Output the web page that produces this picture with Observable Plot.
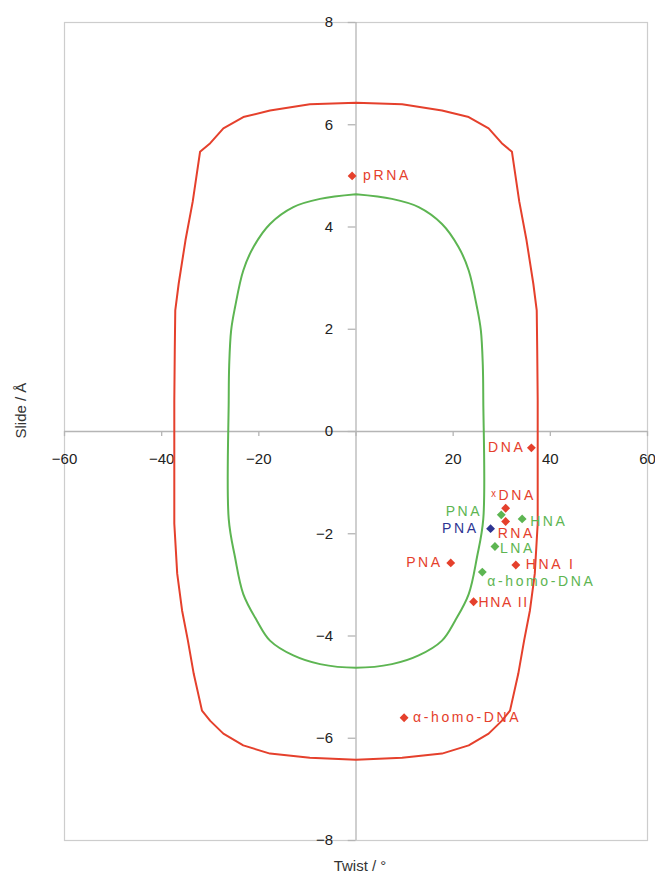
<!DOCTYPE html>
<html>
<head>
<meta charset="utf-8">
<script src="https://cdn.jsdelivr.net/npm/d3@7"></script>
<script src="https://cdn.jsdelivr.net/npm/@observablehq/plot@0.6"></script>
<style>
  html, body { margin: 0; padding: 0; background: #fff; }
</style>
</head>
<body>
<div id="chart"></div>
<script>
// ---- data ----
const names  = ["pRNA", "DNA", "ˣDNA", "PNA", "RNA", "HNA", "PNA", "LNA", "PNA", "HNA I", "α-homo-DNA", "HNA II", "α-homo-DNA"];
const twist  = [-0.8, 36.1, 30.8, 29.9, 30.8, 34.2, 27.7, 28.6, 19.5, 32.9, 26.0, 24.2, 9.9];
const slide  = [5.0, -0.32, -1.50, -1.63, -1.76, -1.71, -1.90, -2.25, -2.57, -2.61, -2.75, -3.33, -5.6];
const family = ["red", "red", "red", "green", "red", "green", "blue", "green", "red", "red", "green", "red", "red"];

// outer (red) boundary
const outerTwist = [0, -9.5, -17.7, -23.2, -27.3, -30.0, -32.1, -33.6, -35.1, -36.5, -37.2, -37.3, -37.4, -37.4, -36.8, -35.8, -34.6, -33.4, -31.7, -30.0, -27.3, -23.2, -17.7, -9.5, 0,
                    9.5, 17.7, 23.2, 27.3, 30.0, 31.7, 33.4, 34.6, 35.8, 36.8, 37.4, 37.4, 37.3, 37.2, 36.5, 35.1, 33.6, 32.1, 30.0, 27.3, 23.2, 17.7, 9.5, 0];
const outerSlide = [6.43, 6.40, 6.28, 6.15, 5.93, 5.64, 5.47, 4.50, 3.74, 2.89, 2.37, 1.60, 0.60, -1.80, -2.78, -3.50, -4.09, -4.74, -5.46, -5.66, -5.91, -6.14, -6.30, -6.38, -6.42,
                    -6.38, -6.30, -6.14, -5.91, -5.66, -5.46, -4.74, -4.09, -3.50, -2.78, -1.80, 0.60, 1.60, 2.37, 2.89, 3.74, 4.50, 5.47, 5.64, 5.93, 6.15, 6.28, 6.40, 6.43];

// inner (green) boundary
const innerTwist = [0, -7.4, -12.9, -17.7, -21.1, -23.2, -24.9, -25.7, -26.1, -26.2, -26.2, -24.9, -23.2, -20.4, -17.7, -12.9, -7.4, 0,
                    7.4, 12.9, 17.7, 20.4, 23.2, 24.9, 26.2, 26.2, 26.1, 25.7, 24.9, 23.2, 21.1, 17.7, 12.9, 7.4, 0];
const innerSlide = [4.64, 4.55, 4.39, 4.06, 3.61, 3.15, 2.43, 1.98, 1.30, 0.60, -1.71, -2.46, -3.18, -3.70, -4.09, -4.38, -4.55, -4.62,
                    -4.55, -4.38, -4.09, -3.70, -3.18, -2.46, -1.71, 0.60, 1.30, 1.98, 2.43, 3.15, 3.61, 4.06, 4.39, 4.55, 4.64];

const xTicks = [-60, -40, -20, 0, 20, 40, 60];
const xTickLabels = [-60, -40, -20, 20, 40, 60];
const yTicks = [-8, -6, -4, -2, 0, 2, 4, 6, 8];

// ---- styles / layout ----
const colors = {red: "#e5402c", green: "#5db552", blue: "#2e3592"};
const labelLayout = [
  {dx: 11, dy: 0, anchor: "start", ls: 2.6},   // pRNA
  {dx: -6, dy: 0, anchor: "end", ls: 2.6},     // DNA
  {dx: 8, dy: -13, anchor: "middle", ls: 2.6}, // xDNA
  {dx: -19, dy: -3, anchor: "end", ls: 2.6},   // PNA green
  {dx: -8, dy: 12, anchor: "start", ls: 2.6},  // RNA
  {dx: 8, dy: 3, anchor: "start", ls: 2.6},    // HNA
  {dx: -12, dy: 0, anchor: "end", ls: 2.6},    // PNA blue
  {dx: 5, dy: 2, anchor: "start", ls: 2.6},    // LNA
  {dx: -8, dy: 0, anchor: "end", ls: 2.6},     // PNA red
  {dx: 10, dy: 0, anchor: "start", ls: 2.6},   // HNA I
  {dx: 5, dy: 9, anchor: "start", ls: 2.6},    // α-homo-DNA green
  {dx: 5, dy: 1, anchor: "start", ls: 1.6},    // HNA II
  {dx: 9, dy: 0, anchor: "start", ls: 2.6}     // α-homo-DNA red
];

const points = names.map((n, i) => ({name: n, twist: twist[i], slide: slide[i], family: family[i], i}));
const outer = outerTwist.map((t, i) => ({twist: t, slide: outerSlide[i]}));
const inner = innerTwist.map((t, i) => ({twist: t, slide: innerSlide[i]}));
const fmt = d => (d < 0 ? "\u2212" + Math.abs(d) : String(d));

const axisColor = "#b5b5b5";
const chart = Plot.plot({
  width: 655,
  height: 877,
  marginLeft: 64,
  marginRight: 8,
  marginTop: 22,
  marginBottom: 37,
  x: {domain: [-60, 60], axis: null},
  y: {domain: [-8, 8], axis: null},
  style: {fontFamily: "'Liberation Sans', Arial, sans-serif", background: "#fff"},
  marks: [
    Plot.frame({stroke: "#cdcdcd", strokeWidth: 1.2}),
    Plot.ruleX([0], {stroke: axisColor, strokeWidth: 1.3}),
    Plot.ruleY([0], {stroke: axisColor, strokeWidth: 1.3}),
    Plot.ruleX(xTicks, {x: d => d, y1: 0, y2: -0.1, stroke: axisColor, strokeWidth: 1.3}),
    Plot.ruleY(yTicks, {y: d => d, x1: -1.6, x2: 0, stroke: axisColor, strokeWidth: 1.3}),
    Plot.text(xTickLabels, {x: d => d, y: 0, text: fmt, dy: 28, fontSize: 15, fill: "#222"}),
    Plot.text(yTicks, {x: 0, y: d => d, text: fmt, dx: -23, textAnchor: "end", fontSize: 15, fill: "#222"}),
    Plot.line(outer, {x: "twist", y: "slide", stroke: colors.red, strokeWidth: 2, curve: "linear"}),
    Plot.line(inner, {x: "twist", y: "slide", stroke: colors.green, strokeWidth: 2, curve: "catmull-rom"}),
    Plot.dot(points, {x: "twist", y: "slide", symbol: "diamond2", r: 4, fill: d => colors[d.family], stroke: "none"}),
    ...points.map(p => Plot.text([p], {
      x: "twist", y: "slide", text: "name",
      dx: labelLayout[p.i].dx, dy: labelLayout[p.i].dy, textAnchor: labelLayout[p.i].anchor,
      fill: colors[p.family], fontSize: 14, ariaLabel: () => "pointlabel-" + p.i
    })),
    Plot.text(["Twist / °"], {frameAnchor: "bottom", dx: 4, dy: 30, fontSize: 15, fill: "#333"}),
    Plot.text(["Slide / Å"], {frameAnchor: "left", rotate: -90, dx: -43, dy: 7, fontSize: 15, fill: "#333"})
  ]
});
labelLayout.forEach((l, i) => {
  d3.select(chart).selectAll(`text[aria-label="pointlabel-${i}"]`).style("letter-spacing", l.ls + "px");
});
document.getElementById("chart").appendChild(chart);
</script>
</body>
</html>
